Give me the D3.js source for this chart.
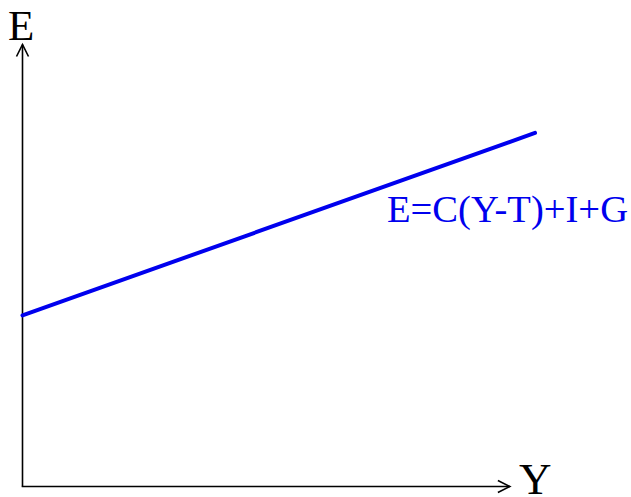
<!DOCTYPE html>
<html><head><meta charset="utf-8">
<script src="https://cdn.jsdelivr.net/npm/d3@7"></script>
<style>html,body{margin:0;padding:0;background:#fff;}</style>
</head><body>
<script>
// Data
const incomeY = [0, 100];          // Y values (horizontal)
const expenditureE = [38.7, 80];   // E values along line
const axisLabels = ["E", "Y"];
const lineLabel = "E=C(Y-T)+I+G";
const axisExtent = {x: 95.1, y: 100};

const W = 631, H = 497;
const svg = d3.select("body").append("svg").attr("width", W).attr("height", H);
const x = d3.scaleLinear().domain([0, 100]).range([22.5, 535]);
const y = d3.scaleLinear().domain([0, 100]).range([486.5, 44.5]);

const ax = svg.append("g").attr("stroke", "#000").attr("stroke-width", 1.6).attr("fill", "none");
// vertical axis
ax.append("line").attr("x1", x(0)).attr("y1", y(0)).attr("x2", x(0)).attr("y2", y(axisExtent.y));
ax.append("path").attr("d", `M${x(0)-6},${y(axisExtent.y)+12}L${x(0)},${y(axisExtent.y)}L${x(0)+6},${y(axisExtent.y)+12}`);
// horizontal axis
ax.append("line").attr("x1", x(0)-0.8).attr("y1", y(0)).attr("x2", x(axisExtent.x)).attr("y2", y(0));
ax.append("path").attr("d", `M${x(axisExtent.x)-12},${y(0)-6}L${x(axisExtent.x)},${y(0)}L${x(axisExtent.x)-12},${y(0)+6}`);

// line
const pts = incomeY.map((v, i) => [v, expenditureE[i]]);
svg.append("path").datum(pts)
  .attr("d", d3.line().x(d => x(d[0])).y(d => y(d[1])))
  .attr("stroke", "#0000ee").attr("stroke-width", 4).attr("fill", "none").attr("stroke-linecap", "round");

const font = "'Liberation Serif', 'Times New Roman', serif";
svg.append("text").attr("x", 8).attr("y", 40).attr("font-family", font).attr("font-size", 43).text(axisLabels[0]);
svg.append("text").attr("x", 519).attr("y", 494).attr("font-family", font).attr("font-size", 45).text(axisLabels[1]);
svg.append("text").attr("x", 387).attr("y", 222).attr("font-family", font).attr("font-size", 37)
  .attr("fill", "#0000ee").attr("textLength", 241).attr("lengthAdjust", "spacingAndGlyphs").text(lineLabel);
</script>
</body></html>
